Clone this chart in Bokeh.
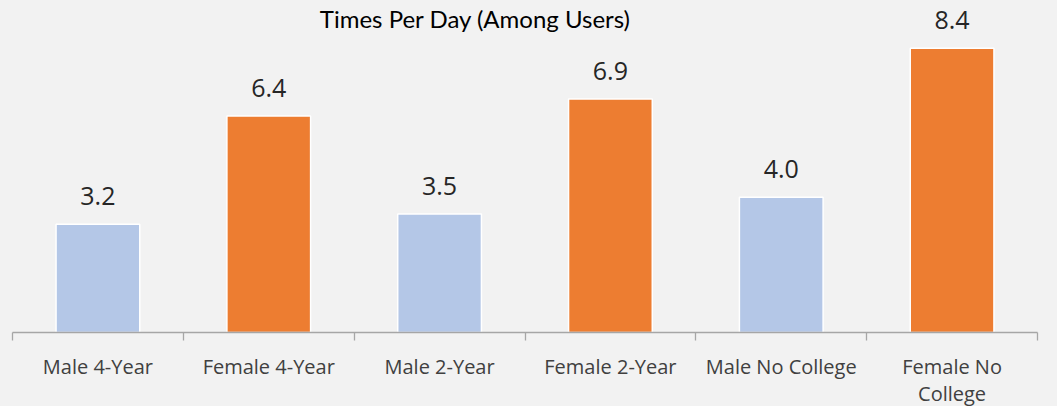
from bokeh.plotting import figure
from bokeh.models import ColumnDataSource, FixedTicker, LabelSet, Label, Range1d
from bokeh.core.properties import value
from bokeh.embed import file_html
from bokeh.resources import INLINE

categories = ["Male 4-Year", "Female 4-Year", "Male 2-Year", "Female 2-Year", "Male No College", "Female No\nCollege"]
values = [3.2, 6.4, 3.5, 6.9, 4.0, 8.4]
colors = ["#b4c7e7", "#ed7d31", "#b4c7e7", "#ed7d31", "#b4c7e7", "#ed7d31"]
labels = [f"{v:.1f}" for v in values]
xpos = [i + 0.5 for i in range(len(categories))]
bounds = list(range(len(categories) + 1))

BG = "#f2f2f2"
src = ColumnDataSource(dict(x=xpos, top=values, color=colors, label=labels))

p = figure(width=1057, height=410, output_backend="svg", toolbar_location=None,
           x_range=Range1d(0, 6), y_range=Range1d(0, 9.81),
           min_border_left=12, min_border_right=20, min_border_top=0, min_border_bottom=77,
           background_fill_color=BG, border_fill_color=BG, outline_line_color=None)
p.grid.visible = False
p.yaxis.visible = False

p.vbar(x="x", top="top", width=0.49, fill_color="color", line_color="white", line_width=1.5, source=src)

p.add_layout(LabelSet(x="x", y="top", text="label", source=src, text_align="center",
                      text_baseline="alphabetic", y_offset=19, text_font=value("Open Sans"),
                      text_font_size="25px", text_color="#262626"))

ax = p.xaxis[0]
ax.ticker = FixedTicker(ticks=xpos, minor_ticks=bounds)
ax.major_label_overrides = {x: c for x, c in zip(xpos, categories)}
ax.axis_line_color = "#a6a6a6"
ax.axis_line_width = 1.3
ax.major_tick_line_color = None
ax.major_tick_in = 0
ax.major_tick_out = 0
ax.minor_tick_line_color = "#a6a6a6"
ax.minor_tick_line_width = 1.3
ax.minor_tick_in = 0
ax.minor_tick_out = 8
ax.major_label_text_font = "Open Sans"
ax.major_label_text_font_size = "20px"
ax.major_label_text_line_height = 1.03
ax.major_label_text_color = "#404040"
ax.major_label_standoff = 12

p.add_layout(Label(x=2.71, y=9.28, text="Times Per Day (Among Users)", text_align="center",
                   text_baseline="middle", text_font="Lato", text_font_size="24px",
                   text_color="#000000"))

html = file_html(p, INLINE)
html = html.replace("<head>", "<head><style>html, body { overflow: hidden; background: #f2f2f2; }</style>", 1)
open("out.html", "w").write(html)
